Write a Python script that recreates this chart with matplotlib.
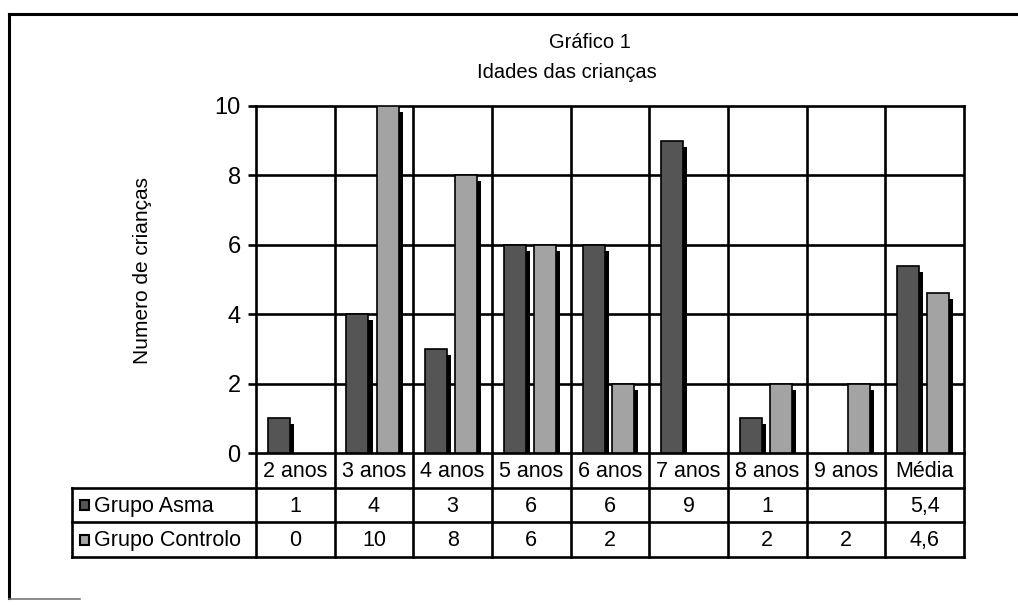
import numpy as np
import matplotlib.pyplot as plt
from matplotlib.lines import Line2D

plt.rcParams["font.family"] = ["Liberation Sans", "DejaVu Sans"]

# ages of the children in each group
categories = ["2 anos", "3 anos", "4 anos", "5 anos", "6 anos",
              "7 anos", "8 anos", "9 anos", "Média"]
grupo_asma = [1, 4, 3, 6, 6, 9, 1, None, 5.4]
grupo_controlo = [0, 10, 8, 6, 2, None, 2, 2, 4.6]
series_names = ["Grupo Asma", "Grupo Controlo"]
series_colors = ["#555555", "#a3a3a3"]

W, H = 1018, 605
fig = plt.figure(figsize=(W / 100, H / 100), dpi=100)

# plot area in pixels
px_left, px_right, px_top, px_bottom = 256, 964, 106, 453
ax = fig.add_axes([px_left / W, 1 - px_bottom / H,
                   (px_right - px_left) / W, (px_bottom - px_top) / H])

ncat = len(categories)
cat_px = (px_right - px_left) / ncat
unit_px = (px_bottom - px_top) / 10.0

lw = 1.9
fs = 15.5
bar_w = 22 / cat_px
offsets = [-16.5 / cat_px, 13.5 / cat_px]
shadow_dx = 4 / cat_px
shadow_dy = 6 / unit_px


def fmt(v):
    if v is None:
        return ""
    if float(v).is_integer():
        return str(int(v))
    return str(v).replace(".", ",")


x = np.arange(ncat) + 0.5
for series, off, color in zip([grupo_asma, grupo_controlo], offsets, series_colors):
    for xi, v in zip(x, series):
        if not v:
            continue
        # drop shadow behind each bar
        sh = max(v - shadow_dy, 0)
        ax.bar(xi + off + shadow_dx, sh, width=bar_w, color="black",
               linewidth=0, zorder=2)
        ax.bar(xi + off, v, width=bar_w, color=color, edgecolor="black",
               linewidth=1.2, zorder=3)

ax.set_xlim(0, ncat)
ax.set_ylim(0, 10)
ax.set_yticks(np.arange(0, 11, 2))
ax.set_xticks([])
ax.tick_params(axis="y", direction="out", length=6, width=lw,
               labelsize=17, pad=5)
for s in ax.spines.values():
    s.set_linewidth(lw)
for yv in np.arange(2, 10, 2):
    ax.axhline(yv, color="black", lw=lw, zorder=1)
for xv in range(1, ncat):
    ax.axvline(xv, color="black", lw=lw, zorder=1)
ax.set_ylabel("Numero de crianças", fontsize=15)
ax.yaxis.set_label_coords((152 - px_left) / (px_right - px_left),
                          (px_bottom - 270) / (px_bottom - px_top))

# data table under the plot
tb_left, tb_bottom = 72, 557
ax_t = fig.add_axes([tb_left / W, 1 - tb_bottom / H,
                     (px_right - tb_left) / W, (tb_bottom - px_bottom) / H])
x_left = -(px_left - tb_left) / cat_px
ax_t.set_xlim(x_left, ncat)
ax_t.set_ylim(0, 3)
ax_t.axis("off")

kw = dict(color="black", lw=lw, clip_on=False, solid_capstyle="projecting")
ax_t.plot([x_left, ncat], [2, 2], **kw)
ax_t.plot([x_left, ncat], [1, 1], **kw)
ax_t.plot([x_left, ncat], [0, 0], **kw)
ax_t.plot([x_left, x_left], [0, 2], **kw)
for xv in range(0, ncat + 1):
    ax_t.plot([xv, xv], [0, 3], **kw)

for i, c in enumerate(categories):
    ax_t.text(i + 0.5, 2.47, c, ha="center", va="center", fontsize=fs)
for row, series in zip([1.5, 0.5], [grupo_asma, grupo_controlo]):
    for i, v in enumerate(series):
        ax_t.text(i + 0.5, row - 0.03, fmt(v), ha="center", va="center",
                  fontsize=fs)

key_w = 9 / cat_px
for row, name, color in zip([1.5, 0.5], series_names, series_colors):
    kx = x_left + 8 / cat_px
    ax_t.add_patch(plt.Rectangle((kx, row - 0.14), key_w, 0.28,
                                 facecolor=color, edgecolor="black",
                                 lw=1.5, clip_on=False))
    ax_t.text(kx + key_w + 5 / cat_px, row - 0.03, name, ha="left",
              va="center", fontsize=fs)

# titles
fig.text(590 / W, 1 - 42 / H, "Gráfico 1", ha="center", va="center", fontsize=14.5)
fig.text(567 / W, 1 - 72 / H, "Idades das crianças", ha="center", va="center",
         fontsize=14.5)

# outer frame of the chart
fig.add_artist(Line2D([9 / W, 1], [1 - 14 / H, 1 - 14 / H], color="black",
                      lw=2.2, transform=fig.transFigure))
fig.add_artist(Line2D([9 / W, 9 / W], [1 - 14 / H, 1 - 598 / H], color="black",
                      lw=2.2, transform=fig.transFigure))
fig.add_artist(Line2D([9 / W, 80 / W], [1 - 599 / H, 1 - 599 / H], color="#777777",
                      lw=1.2, transform=fig.transFigure))

fig.savefig("out.png", dpi=100, facecolor="white")
